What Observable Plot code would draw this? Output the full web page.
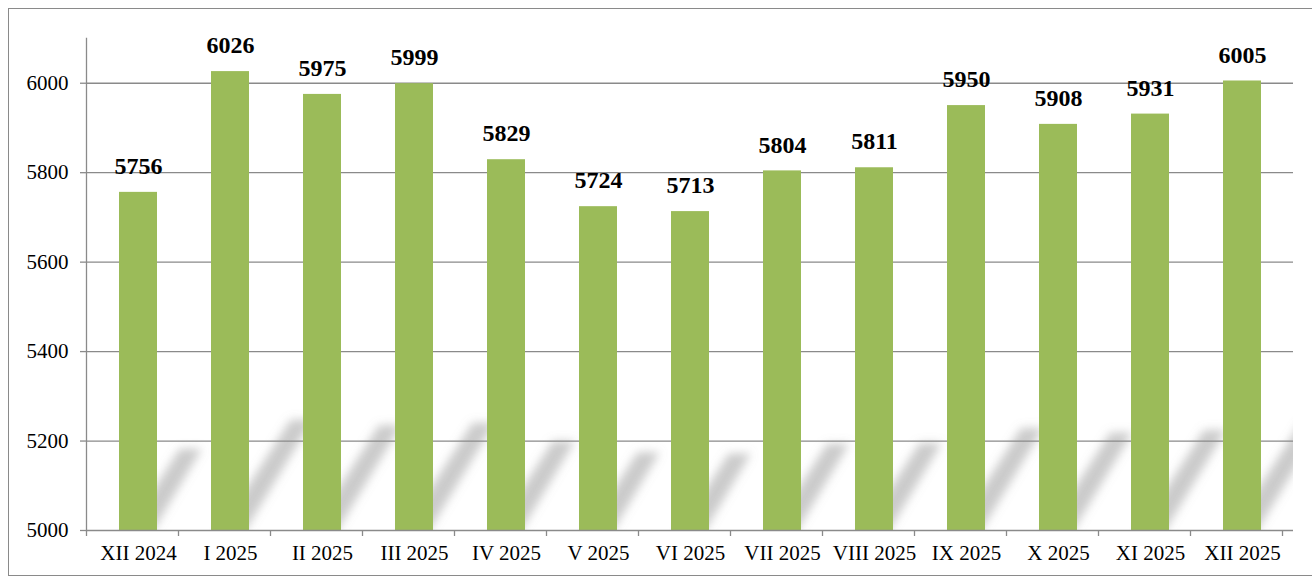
<!DOCTYPE html>
<html>
<head>
<meta charset="utf-8">
<script src="https://cdn.jsdelivr.net/npm/d3@7"></script>
<script src="https://cdn.jsdelivr.net/npm/@observablehq/plot@0.6"></script>
<style>
  html, body { margin: 0; padding: 0; background: #fff; overflow: hidden; }
  #wrap { position: relative; width: 1312px; height: 579px; }
  #frame { position: absolute; left: 8px; top: 8px; width: 1330px; height: 568px; border: 1.5px solid #8a8a8a; box-sizing: border-box; }
  #chart { position: absolute; left: 0; top: 0; }
</style>
</head>
<body>
<div id="wrap"><div id="frame"></div><div id="chart"></div></div>
<script>
const categories = ["XII 2024","I 2025","II 2025","III 2025","IV 2025","V 2025","VI 2025","VII 2025","VIII 2025","IX 2025","X 2025","XI 2025","XII 2025"];
const values = [5756, 6026, 5975, 5999, 5829, 5724, 5713, 5804, 5811, 5950, 5908, 5931, 6005];
const yTicks = [5000, 5200, 5400, 5600, 5800, 6000];
const yBase = 5000;

const data = categories.map((c, i) => ({cat: c, value: values[i]}));
const gray = "#8a8a8a";
const serif = "Liberation Serif";
const pad = 0.59;

const plot = Plot.plot({
  width: 1312,
  height: 579,
  marginLeft: 86,
  marginRight: 19,
  marginTop: 38,
  marginBottom: 49,
  style: {fontFamily: serif, background: "transparent"},
  x: {domain: categories, paddingInner: pad, paddingOuter: pad / 2, label: null, axis: null},
  y: {domain: [5000, 6100], label: null},
  marks: [
    Plot.gridY(yTicks.filter(t => t > yBase), {stroke: gray, strokeOpacity: 1, strokeWidth: 1.3}),
    Plot.barY(data, {x: "cat", y1: () => yBase, y2: "value", fill: "#9bbb59"}),
    Plot.ruleY([yBase], {stroke: gray, strokeWidth: 1.3}),
    Plot.frame({anchor: "left", stroke: gray, strokeWidth: 1.3}),
    Plot.axisY({ticks: yTicks, tickSize: 6, text: null, stroke: gray, strokeWidth: 1.3, label: null}),
    Plot.text(yTicks, {y: d => d, frameAnchor: "left", dx: -18, textAnchor: "end", text: d => String(d), fontSize: 21, fontFamily: serif, fill: "#000"}),
    Plot.text(categories, {x: d => d, frameAnchor: "bottom", dy: 29, text: d => d, fontSize: 21, fontFamily: serif, fill: "#000"}),
    Plot.text(data, {x: "cat", y: "value", text: d => String(d.value), dy: -26, fontSize: 24, fontWeight: "bold", fontFamily: serif, fill: "#000"})
  ]
});

const xs = plot.scale("x");
const ys = plot.scale("y");
const step = xs.step;
const bw = xs.bandwidth;
const x0 = xs.range[0];
const x1 = xs.range[1];
const svg = d3.select(plot);
const yb = ys.apply(yBase);
const yt = ys.range[1];

// soft diagonal shadows behind the bars
const defs = svg.append("defs");
defs.append("filter").attr("id", "blur").attr("x", "-50%").attr("y", "-50%").attr("width", "200%").attr("height", "200%")
  .append("feGaussianBlur").attr("stdDeviation", 5);
defs.append("clipPath").attr("id", "plotclip").append("rect")
  .attr("x", x0).attr("y", yt).attr("width", x1 - x0).attr("height", yb - yt);
const sh = svg.insert("g", "g").attr("clip-path", "url(#plotclip)")
  .append("g").attr("filter", "url(#blur)");
data.forEach(d => {
  const xl = xs.apply(d.cat);
  const xr = xl + bw;
  const h = (yb - ys.apply(d.value)) * 0.24;
  const dx = h * 0.65;
  const pts = [[xl + 6, yb + 4], [xr - 6, yb + 4], [xr + dx - 8, yb - h], [xl + dx + 8, yb - h]];
  sh.append("path").attr("d", "M" + pts.map(p => p.join(",")).join("L") + "Z")
    .attr("fill", "#8c8c8c").attr("fill-opacity", 0.45);
});

// tick marks at band boundaries on the x axis
const g = svg.append("g").attr("stroke", gray).attr("stroke-width", 1.3);
for (let i = 0; i <= categories.length; i++) {
  const xx = Math.round(x0 + i * step) + 0.5;
  g.append("line").attr("x1", xx).attr("x2", xx).attr("y1", yb).attr("y2", yb + 6);
}
document.getElementById("chart").appendChild(plot);
</script>
</body>
</html>
